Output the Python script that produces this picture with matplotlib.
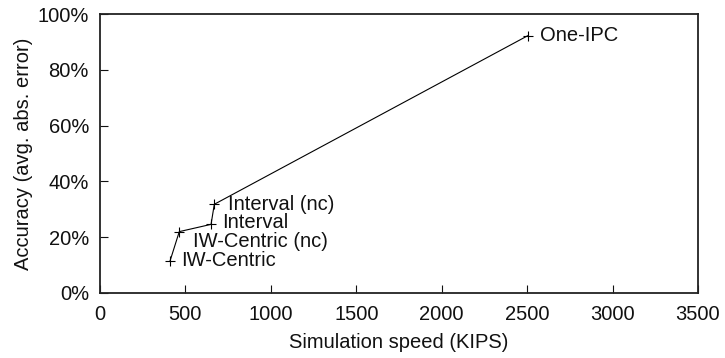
import matplotlib
matplotlib.use("Agg")
import matplotlib.pyplot as plt
from matplotlib.ticker import FuncFormatter

plt.rcParams['font.family'] = ['Liberation Sans', 'DejaVu Sans']

# simulator configurations, ordered along the connecting line
names = ['IW-Centric', 'IW-Centric (nc)', 'Interval', 'Interval (nc)', 'One-IPC']
speed_kips = [410, 464, 650, 669, 2503]
error_pct = [11.5, 22.0, 24.6, 31.8, 92.2]
# label offsets in points (dx, dy)
label_offsets = [(8, 0), (10, -7), (8, 1), (10, 0), (9, 0)]

FS = 14.5

fig = plt.figure(figsize=(7.25, 3.58), dpi=100)
ax = fig.add_axes([100 / 725, 1 - 293 / 358, 598 / 725, 279 / 358])

ax.plot(speed_kips, error_pct, color='black', linewidth=0.8,
        marker='+', markersize=7, markeredgewidth=0.8)

for name, x, y, off in zip(names, speed_kips, error_pct, label_offsets):
    ax.annotate(name, (x, y), xytext=off, textcoords='offset points',
                ha='left', va='center', fontsize=FS, color='#111111')

ax.set_xlim(0, 3500)
ax.set_ylim(0, 100)
ax.set_xticks(range(0, 3501, 500))
ax.set_yticks(range(0, 101, 20))
ax.yaxis.set_major_formatter(FuncFormatter(lambda v, p: f'{v:.0f}%'))

ax.tick_params(direction='in', length=6, width=0.8, labelsize=FS,
               colors='#111111')
ax.tick_params(axis='x', pad=9)
ax.tick_params(axis='y', pad=8)
for s in ax.spines.values():
    s.set_linewidth(1.3)
    s.set_color('#222222')

ax.set_xlabel('Simulation speed (KIPS)', fontsize=FS, labelpad=6, color='#111111')
ax.set_ylabel('Accuracy (avg. abs. error)', fontsize=FS, labelpad=3, color='#111111')

fig.savefig('out.png', dpi=100)
